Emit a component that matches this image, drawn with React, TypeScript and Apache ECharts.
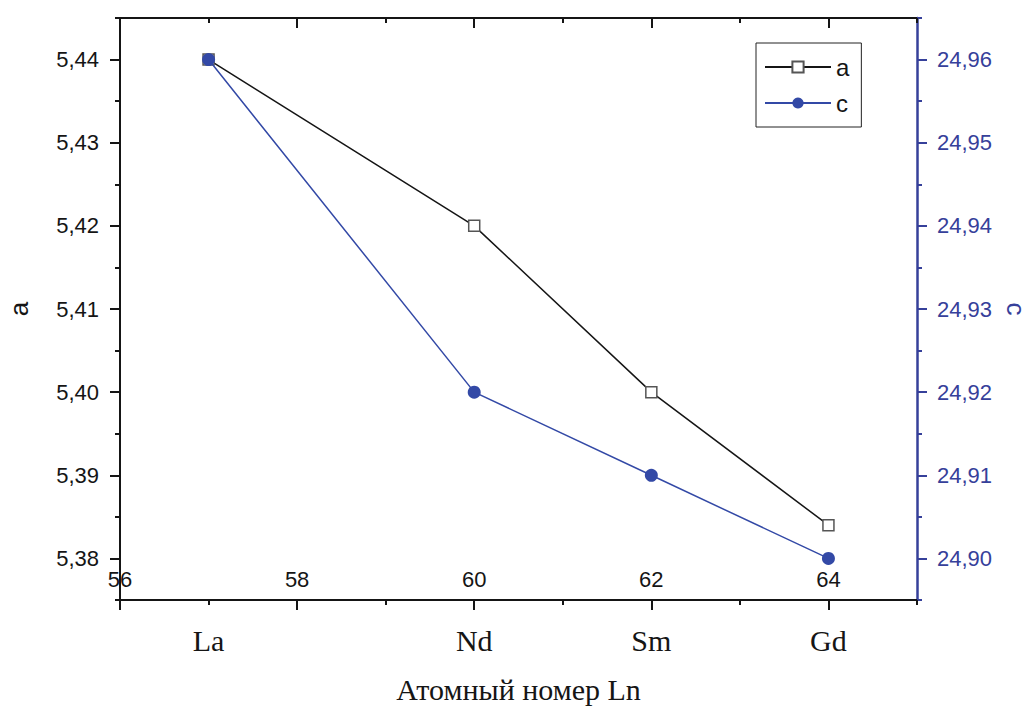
import React, { useEffect, useRef } from "react";
import * as echarts from "echarts";

const elements = ["La", "Nd", "Sm", "Gd"];
const atomicNumbers = [57, 60, 62, 64];
const aValues = [5.44, 5.42, 5.4, 5.384];
const cValues = [24.96, 24.92, 24.91, 24.9];

const xMajorTicks = [56, 58, 60, 62, 64];
const xMinorTicks = [57, 59, 61, 63, 65];
const aMajorTicks = [5.38, 5.39, 5.4, 5.41, 5.42, 5.43, 5.44];
const aMinorTicks = [5.375, 5.385, 5.395, 5.405, 5.415, 5.425, 5.435, 5.445];
const cMajorTicks = [24.9, 24.91, 24.92, 24.93, 24.94, 24.95, 24.96];
const cMinorTicks = [24.895, 24.905, 24.915, 24.925, 24.935, 24.945, 24.955, 24.965];

const X_MIN = 56;
const X_MAX = 65;
const A_MIN = 5.375;
const A_MAX = 5.445;
const C_MIN = 24.895;
const C_MAX = 24.965;

const BLACK = "#151515";
const BLUE = "#3349a6";
const BLUE_AXIS = "#36409a";
const SANS = 'Arial, "Liberation Sans", sans-serif';
const SERIF = '"Times New Roman", "Liberation Serif", serif';

const gridRect = { left: 120, right: 116, top: 18, bottom: 111, containLabel: false, outerBoundsMode: "none" };

export default function App() {
  const ref = useRef<HTMLDivElement>(null);

  useEffect(() => {
    if (!ref.current) return;
    const chart = echarts.init(ref.current, null, { renderer: "svg" });
    const comma = (v: number) => v.toFixed(2).replace(".", ",");

    const option: any = {
      animation: false,
      backgroundColor: "#ffffff",
      grid: [{ ...gridRect }, { ...gridRect }, { ...gridRect }],
      legend: {
        data: ["a", "c"],
        orient: "vertical",
        left: 756,
        top: 43,
        itemWidth: 66,
        itemHeight: 14,
        itemGap: 12,
        padding: [12, 12, 12, 8],
        borderColor: "#222",
        borderWidth: 1,
        textStyle: { fontSize: 24, color: BLACK, fontFamily: SANS },
      },
      xAxis: [
        {
          gridIndex: 0,
          type: "value",
          position: "bottom",
          min: X_MIN,
          max: X_MAX,
          axisLine: { show: true, onZero: false, lineStyle: { color: BLACK, width: 2 } },
          axisTick: { show: true, customValues: xMajorTicks, length: 10, lineStyle: { color: BLACK, width: 2 } },
          axisLabel: {
            show: true,
            inside: true,
            customValues: xMajorTicks,
            fontSize: 22,
            color: BLACK,
            fontFamily: SANS,
            margin: 10,
            formatter: (v: number) => String(v),
          },
          splitLine: { show: false },
        },
        {
          gridIndex: 0,
          type: "value",
          position: "top",
          min: X_MIN,
          max: X_MAX,
          axisLine: { show: true, onZero: false, lineStyle: { color: BLACK, width: 2 } },
          axisTick: { show: true, inside: true, customValues: xMajorTicks, length: 10, lineStyle: { color: BLACK, width: 2 } },
          axisLabel: { show: false },
          splitLine: { show: false },
        },
        {
          gridIndex: 1,
          type: "value",
          position: "bottom",
          min: X_MIN,
          max: X_MAX,
          axisLine: { show: false, onZero: false },
          axisTick: { show: true, customValues: xMinorTicks, length: 5, lineStyle: { color: BLACK, width: 2 } },
          axisLabel: { show: false },
          splitLine: { show: false },
        },
        {
          gridIndex: 1,
          type: "value",
          position: "top",
          min: X_MIN,
          max: X_MAX,
          axisLine: { show: false, onZero: false },
          axisTick: { show: true, inside: true, customValues: xMinorTicks, length: 5, lineStyle: { color: BLACK, width: 2 } },
          axisLabel: { show: false },
          splitLine: { show: false },
        },
        {
          gridIndex: 2,
          type: "value",
          position: "bottom",
          min: X_MIN,
          max: X_MAX,
          axisLine: { show: false, onZero: false },
          axisTick: { show: false },
          axisLabel: {
            show: true,
            customValues: atomicNumbers,
            fontSize: 30,
            color: BLACK,
            fontFamily: SERIF,
            margin: 25,
            formatter: (v: number) => {
              const i = atomicNumbers.indexOf(Math.round(v));
              return i >= 0 ? elements[i] : "";
            },
          },
          splitLine: { show: false },
          name: "Атомный номер Ln",
          nameLocation: "middle",
          nameGap: 74,
          nameTextStyle: { fontSize: 30, color: BLACK, fontFamily: SERIF },
        },
      ],
      yAxis: [
        {
          gridIndex: 0,
          type: "value",
          position: "left",
          min: A_MIN,
          max: A_MAX,
          axisLine: { show: true, onZero: false, lineStyle: { color: BLACK, width: 2 } },
          axisTick: { show: true, customValues: aMajorTicks, length: 10, lineStyle: { color: BLACK, width: 2 } },
          axisLabel: {
            show: true,
            customValues: aMajorTicks,
            fontSize: 22,
            color: BLACK,
            fontFamily: SANS,
            margin: 21,
            formatter: comma,
          },
          splitLine: { show: false },
          name: "a",
          nameLocation: "middle",
          nameRotate: 90,
          nameGap: 88,
          nameTextStyle: { fontSize: 26, color: BLACK, fontFamily: SANS },
        },
        {
          gridIndex: 0,
          type: "value",
          position: "right",
          min: C_MIN,
          max: C_MAX,
          axisLine: { show: true, onZero: false, lineStyle: { color: BLUE_AXIS, width: 2.5 } },
          axisTick: { show: true, customValues: cMajorTicks, length: 10, lineStyle: { color: BLUE_AXIS, width: 2 } },
          axisLabel: {
            show: true,
            customValues: cMajorTicks,
            fontSize: 22,
            color: BLUE_AXIS,
            fontFamily: SANS,
            margin: 20,
            formatter: comma,
          },
          splitLine: { show: false },
          name: "c",
          nameLocation: "middle",
          nameRotate: -90,
          nameGap: 84,
          nameTextStyle: { fontSize: 26, color: BLUE_AXIS, fontFamily: SANS },
        },
        {
          gridIndex: 1,
          type: "value",
          position: "left",
          min: A_MIN,
          max: A_MAX,
          axisLine: { show: false, onZero: false },
          axisTick: { show: true, customValues: aMinorTicks, length: 5, lineStyle: { color: BLACK, width: 2 } },
          axisLabel: { show: false },
          splitLine: { show: false },
        },
        {
          gridIndex: 1,
          type: "value",
          position: "right",
          min: C_MIN,
          max: C_MAX,
          axisLine: { show: false, onZero: false },
          axisTick: { show: true, customValues: cMinorTicks, length: 5, lineStyle: { color: BLUE_AXIS, width: 2 } },
          axisLabel: { show: false },
          splitLine: { show: false },
        },
        {
          gridIndex: 2,
          type: "value",
          show: false,
          min: A_MIN,
          max: A_MAX,
        },
      ],
      series: [
        {
          name: "a",
          type: "line",
          xAxisIndex: 0,
          yAxisIndex: 0,
          data: atomicNumbers.map((x, i) => [x, aValues[i]]),
          symbol: "rect",
          symbolSize: 11,
          showAllSymbol: true,
          itemStyle: { color: "#ffffff", borderColor: "#555555", borderWidth: 1.5 },
          lineStyle: { color: BLACK, width: 1.5 },
          z: 2,
        },
        {
          name: "c",
          type: "line",
          xAxisIndex: 0,
          yAxisIndex: 1,
          data: atomicNumbers.map((x, i) => [x, cValues[i]]),
          symbol: "circle",
          symbolSize: 13,
          showAllSymbol: true,
          itemStyle: { color: BLUE, borderColor: BLUE, borderWidth: 0 },
          lineStyle: { color: BLUE, width: 1.5 },
          z: 3,
        },
      ],
    };

    chart.setOption(option);
    return () => chart.dispose();
  }, []);

  return (
    <div
      ref={ref}
      style={{ position: "absolute", left: 0, top: 0, width: 1033, height: 711, background: "#fff" }}
    />
  );
}
